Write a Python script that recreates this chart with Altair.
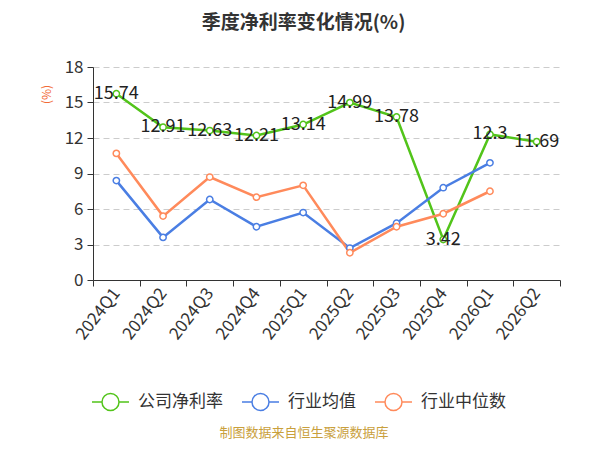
import altair as alt
import pandas as pd

quarters = ["2024Q1", "2024Q2", "2024Q3", "2024Q4", "2025Q1", "2025Q2",
            "2025Q3", "2025Q4", "2026Q1", "2026Q2"]
company = [15.74, 12.91, 12.63, 12.21, 13.14, 14.99, 13.78, 3.42, 12.3, 11.69]
company_labels = ["15.74", "12.91", "12.63", "12.21", "13.14", "14.99",
                  "13.78", "3.42", "12.3", "11.69"]
ind_avg = [8.4, 3.6, 6.8, 4.5, 5.7, 2.7, 4.8, 7.8, 9.9]
ind_med = [10.7, 5.4, 8.7, 7.0, 8.0, 2.3, 4.5, 5.6, 7.5]
y_ticks = [0, 3, 6, 9, 12, 15, 18]

series_names = ["公司净利率", "行业均值", "行业中位数"]
colors = ["#52c41a", "#4a7ee3", "#ff8a5b"]

rows = []
for q, v in zip(quarters, company):
    rows.append({"q": q, "v": v, "s": series_names[0]})
for q, v in zip(quarters, ind_avg):
    rows.append({"q": q, "v": v, "s": series_names[1]})
for q, v in zip(quarters, ind_med):
    rows.append({"q": q, "v": v, "s": series_names[2]})
df = pd.DataFrame(rows)
lab = pd.DataFrame({"q": quarters, "v": company, "t": company_labels})

FONT = "Noto Sans CJK SC"

x = alt.X("q:O", sort=quarters, bandPosition=0.5,
          scale=alt.Scale(type="band", paddingInner=0, paddingOuter=0),
          axis=alt.Axis(title=None, labelAngle=-52, labelFontSize=17,
                        labelColor="#333", tickBand="extent", tickSize=6,
                        tickColor="#333", domainColor="#333", labelPadding=4,
                        grid=False, labelFont=FONT))
y = alt.Y("v:Q", scale=alt.Scale(domain=[0, 18], nice=False),
          axis=alt.Axis(values=y_ticks, tickCount=7, title="(%)",
                        titleColor="#f26b38", titleFontSize=12,
                        titleFontWeight="normal", titleX=-47, titleY=27,
                        titleAngle=270, titleAlign="center", titleBaseline="middle",
                        labelFontSize=17, labelColor="#333", tickSize=6,
                        tickColor="#333", domainColor="#333", labelPadding=4,
                        labelOverlap=False,
                        grid=True, gridColor="#cccccc", gridDash=[6, 4],
                        labelFont=FONT, titleFont=FONT))

color = alt.Color("s:N", sort=series_names,
                  scale=alt.Scale(domain=series_names, range=colors),
                  legend=alt.Legend(title=None, orient="none", direction="horizontal",
                                    legendX=-2, legendY=315,
                                    labelFontSize=17, labelColor="#333",
                                    labelFont=FONT, labelOffset=8,
                                    columnPadding=16,
                                    symbolType="M-1,0L-0.46,0M0.46,0L1,0M-0.46,0A0.46,0.46,0,1,1,0.46,0A0.46,0.46,0,1,1,-0.46,0Z",
                                    symbolSize=1369, symbolFillColor="white",
                                    symbolStrokeWidth=1.5))

lines = alt.Chart(df).mark_line(strokeWidth=2.5).encode(x=x, y=y, color=color)
points = alt.Chart(df).mark_point(filled=False, fill="white", size=40,
                                  strokeWidth=1.5, opacity=1).encode(x=x, y=y, color=color)
labels = alt.Chart(lab).mark_text(fontSize=18, color="#222", font=FONT,
                                  baseline="middle", align="center").encode(
    x=x, y=y, text="t:N")

source = alt.Chart(pd.DataFrame({"t": ["制图数据来自恒生聚源数据库"]})).mark_text(
    fontSize=13, color="#c9a03c", font=FONT, align="center", baseline="middle"
).encode(x=alt.value(211), y=alt.value(366), text="t:N")

chart = alt.layer(lines, points, labels, source).properties(
    width=467, height=213,
    padding={"left": 85, "top": 59, "right": 32, "bottom": 162},
    autosize=alt.AutoSizeParams(type="none"),
    title=alt.TitleParams("季度净利率变化情况(%)", fontSize=19, fontWeight="bold",
                          color="#333", font=FONT, anchor="middle", frame="group",
                          dx=-23, offset=25),
).configure_view(stroke=None)

chart.save("out.html", embed_options={"renderer": "svg", "actions": False})
